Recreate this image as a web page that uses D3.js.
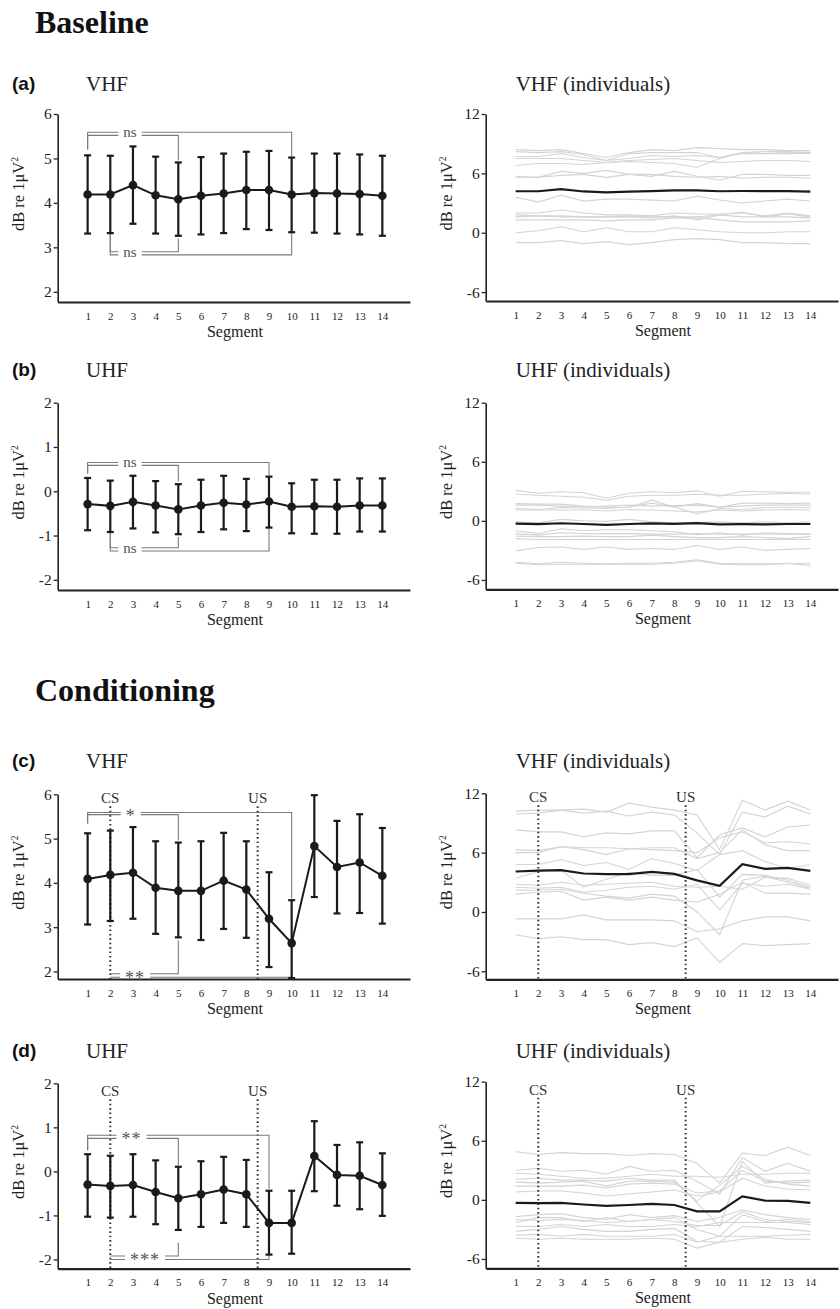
<!DOCTYPE html>
<html><head><meta charset="utf-8">
<script src="https://cdn.jsdelivr.net/npm/d3@7/dist/d3.min.js"></script>
<style>
body{margin:0;background:#fff}
text{font-family:"Liberation Serif","Times New Roman",serif;fill:#222}
</style>
</head><body>
<svg id="chart" width="840" height="1309"></svg>
<script>
// ---------------- DATA ----------------
const segments = d3.range(1, 15);
const segmentLabels = segments.map(String);
const vhfTicks = [2, 3, 4, 5, 6];
const uhfTicks = [-2, -1, 0, 1, 2];
const indivTicks = [-6, 0, 6, 12];

// (a) Baseline VHF: mean and error-bar limits
const vhfBaseMean  = [4.19,4.19,4.40,4.17,4.08,4.16,4.21,4.29,4.29,4.19,4.22,4.21,4.20,4.16];
const vhfBaseUpper = [5.07,5.06,5.27,5.04,4.91,5.03,5.11,5.15,5.17,5.02,5.11,5.11,5.09,5.06];
const vhfBaseLower = [3.31,3.32,3.53,3.31,3.26,3.29,3.32,3.41,3.39,3.34,3.33,3.31,3.29,3.26];
// (b) Baseline UHF
const uhfBaseMean  = [-0.29,-0.33,-0.24,-0.32,-0.41,-0.32,-0.26,-0.30,-0.23,-0.35,-0.34,-0.35,-0.32,-0.32];
const uhfBaseUpper = [0.30,0.24,0.35,0.23,0.16,0.26,0.35,0.28,0.33,0.18,0.26,0.26,0.29,0.29];
const uhfBaseLower = [-0.88,-0.92,-0.84,-0.93,-0.97,-0.92,-0.86,-0.90,-0.82,-0.95,-0.96,-0.96,-0.91,-0.91];
// (c) Conditioning VHF
const vhfCondMean  = [4.09,4.18,4.23,3.89,3.82,3.82,4.05,3.85,3.19,2.64,4.83,4.36,4.46,4.16];
const vhfCondUpper = [5.12,5.18,5.26,4.94,4.91,4.94,5.13,4.94,4.24,3.61,5.98,5.40,5.55,5.24];
const vhfCondLower = [3.06,3.14,3.19,2.85,2.77,2.71,2.96,2.76,2.10,1.85,3.68,3.31,3.32,3.08];
// (d) Conditioning UHF
const uhfCondMean  = [-0.30,-0.33,-0.31,-0.47,-0.61,-0.52,-0.41,-0.52,-1.17,-1.17,0.35,-0.08,-0.10,-0.31];
const uhfCondUpper = [0.39,0.355,0.39,0.25,0.105,0.23,0.33,0.26,-0.44,-0.44,1.14,0.60,0.66,0.41];
const uhfCondLower = [-1.03,-1.05,-1.03,-1.20,-1.33,-1.26,-1.17,-1.26,-1.89,-1.87,-0.45,-0.78,-0.86,-1.01];

// individual animals
const vhfBaseIndividuals = [
 [8.4,8.3,8.4,8.0,7.6,8.1,8.4,8.3,8.6,8.5,8.4,8.4,8.3,8.3],
 [8.2,8.1,8.2,7.9,7.3,8.0,8.1,8.1,8.1,7.6,8.1,8.2,8.2,8.1],
 [7.7,7.7,8.0,7.6,7.3,7.5,7.8,7.7,7.8,7.6,8.0,8.0,8.1,8.0],
 [7.5,7.5,7.5,7.3,7.1,7.3,7.4,7.5,7.3,7.1,7.2,7.3,7.3,7.2],
 [6.8,7.0,7.0,6.9,7.1,7.2,7.1,7.0,6.6,7.5,8.1,8.0,8.0,8.1],
 [5.7,5.6,6.2,6.0,6.3,5.9,5.7,6.2,5.7,5.3,5.9,5.9,5.8,5.8],
 [5.6,5.6,5.8,5.9,5.6,5.9,5.9,5.7,5.6,5.7,5.5,5.6,5.6,5.5],
 [3.6,3.1,3.8,3.2,3.4,3.4,3.3,3.2,3.7,3.3,3.0,3.2,3.4,3.2],
 [2.0,2.0,2.3,2.0,1.8,1.8,1.7,2.0,1.9,1.9,2.0,1.7,2.0,1.7],
 [1.8,1.7,1.7,1.6,1.6,1.7,1.6,1.6,1.6,1.8,1.6,1.6,1.9,1.6],
 [1.6,1.7,1.6,1.6,1.6,1.6,1.5,1.7,1.3,1.8,2.1,1.6,1.6,1.5],
 [1.3,1.3,1.3,1.3,1.2,1.3,1.3,1.5,1.5,1.3,1.1,1.1,1.1,1.2],
 [0.0,0.2,0.6,0.1,0.5,0.1,0.1,0.5,0.3,0.1,0.0,0.0,0.1,0.1],
 [-1.0,-1.0,-0.8,-1.1,-0.9,-1.2,-1.0,-0.7,-0.6,-0.7,-1.0,-1.0,-1.1,-1.1]
];
const uhfBaseIndividuals = [
 [3.1,2.8,2.95,2.85,2.3,2.8,2.95,2.85,3.05,2.5,3.0,2.95,2.9,2.9],
 [2.7,2.6,2.5,2.4,2.1,2.5,2.6,2.6,2.7,2.6,2.6,2.7,2.8,2.7],
 [1.75,1.7,1.7,1.5,1.4,1.35,2.1,1.4,1.75,1.4,1.8,1.8,1.75,1.8],
 [1.6,1.6,1.5,1.4,1.5,1.6,1.5,1.55,1.6,1.4,1.5,1.6,1.6,1.6],
 [1.25,1.15,1.35,1.3,1.25,1.4,1.8,1.4,0.7,1.25,1.15,1.35,1.35,1.35],
 [1.1,1.1,1.1,1.1,1.0,1.15,1.1,1.0,0.9,1.1,1.0,1.1,1.15,1.1],
 [-0.1,-0.2,0.15,0.0,-0.05,0.15,-0.1,-0.2,-0.15,-0.1,-0.2,-0.1,-0.2,-0.1],
 [-1.0,-1.3,-0.8,-1.0,-0.9,-0.9,-1.0,-1.1,-1.4,-1.2,-1.45,-1.2,-1.3,-1.35],
 [-1.3,-1.45,-1.2,-1.3,-1.3,-1.3,-1.35,-1.35,-1.3,-1.35,-1.35,-1.35,-1.35,-1.35],
 [-1.55,-1.6,-1.6,-1.55,-1.6,-1.6,-1.45,-1.6,-1.7,-1.7,-1.6,-1.7,-1.8,-1.6],
 [-1.8,-1.9,-1.9,-1.9,-1.9,-1.9,-1.9,-1.9,-1.9,-1.9,-1.9,-1.9,-1.9,-1.9],
 [-3.05,-2.7,-2.65,-2.9,-2.65,-2.9,-2.8,-2.9,-2.5,-2.9,-2.65,-3.0,-2.9,-2.8],
 [-4.2,-4.35,-4.2,-4.3,-4.35,-4.3,-4.3,-4.2,-3.95,-4.3,-4.35,-4.35,-4.35,-4.3],
 [-4.3,-4.45,-4.4,-4.4,-4.4,-4.4,-4.4,-4.3,-4.05,-4.4,-4.45,-4.45,-4.3,-4.55]
];
const vhfCondIndividuals = [
 [10.2,10.3,10.3,10.4,10.1,11.0,10.6,10.3,9.8,6.3,11.3,10.3,11.2,10.3],
 [9.9,10.0,10.3,10.0,10.2,9.7,10.1,9.8,8.0,5.8,10.1,9.6,10.7,9.9],
 [8.3,8.1,8.1,7.6,8.0,7.9,8.2,8.2,5.5,7.8,8.5,7.6,8.6,8.8],
 [6.3,6.2,6.6,6.3,5.8,6.4,6.5,6.5,5.4,6.0,8.3,6.8,6.2,6.2],
 [6.0,6.0,6.6,6.5,6.5,6.4,6.3,6.2,6.0,7.5,8.1,7.0,7.1,6.9],
 [4.8,4.8,5.3,4.7,5.0,4.3,5.4,4.9,4.2,5.8,6.2,5.1,4.4,4.8],
 [3.4,4.1,4.2,2.5,3.3,4.0,3.7,3.7,4.3,1.5,3.8,3.7,3.2,2.5],
 [2.8,2.7,3.0,2.7,2.8,2.9,3.0,2.6,2.5,2.6,2.3,3.5,3.4,2.7],
 [2.5,2.4,2.5,2.0,2.2,2.5,2.6,2.3,2.8,0.2,2.9,2.6,2.8,2.3],
 [2.2,2.2,2.3,1.9,1.6,1.4,1.8,1.6,0.0,-2.3,3.2,3.6,3.0,2.4],
 [1.8,2.0,2.1,1.2,1.5,1.2,1.5,1.2,1.0,1.8,3.0,1.9,1.9,1.8],
 [-0.7,-0.7,-0.7,-0.3,-0.8,-0.8,-0.8,-0.9,-2.0,-1.7,-0.9,-0.5,-0.5,-0.9],
 [-2.3,-2.7,-2.5,-2.8,-2.8,-3.3,-3.1,-3.5,-2.6,-5.1,-3.2,-3.4,-3.3,-3.2]
];
const uhfCondIndividuals = [
 [4.9,4.6,4.8,4.7,4.7,4.5,4.7,4.6,3.7,1.7,4.75,4.5,5.35,4.5],
 [3.0,3.2,2.9,3.0,2.6,3.4,2.9,3.0,1.9,0.6,4.3,2.9,3.7,2.9],
 [2.7,2.6,2.4,2.2,2.2,2.4,2.6,2.4,2.4,2.3,2.6,2.6,2.7,2.7],
 [1.8,1.7,1.8,1.9,1.4,1.9,1.9,1.8,-0.1,1.5,3.4,2.1,1.6,1.4],
 [1.4,1.4,1.4,1.5,1.2,1.6,1.7,1.6,0.7,0.9,3.0,1.9,1.7,1.8],
 [0.8,0.9,0.9,0.7,0.4,0.6,0.8,1.0,0.4,0.8,2.2,1.4,1.1,1.0],
 [2.1,2.2,2.0,2.0,1.9,2.2,2.0,2.0,-0.3,-2.7,3.9,1.7,1.9,2.0],
 [-1.7,-1.5,-1.4,-1.8,-2.0,-1.5,-1.8,-1.6,-2.2,-1.8,-1.0,-1.5,-1.8,-2.0],
 [-2.0,-2.1,-2.0,-2.1,-2.3,-2.2,-2.0,-2.2,-2.6,-2.6,-1.2,-2.0,-2.2,-2.3],
 [-2.3,-1.8,-1.8,-2.2,-1.8,-2.2,-2.0,-1.8,-3.0,-3.7,-1.5,-2.2,-2.0,-2.2],
 [-2.7,-2.7,-2.5,-2.7,-2.5,-2.7,-2.7,-2.5,-2.7,-2.3,-2.3,-2.3,-2.3,-2.5],
 [-3.2,-3.0,-2.7,-3.0,-3.2,-3.2,-3.0,-2.9,-4.2,-4.3,-2.7,-2.8,-3.0,-3.2],
 [-3.6,-3.5,-3.7,-3.5,-3.7,-3.7,-3.7,-3.5,-4.3,-3.7,-3.7,-3.7,-3.6,-3.5],
 [-3.9,-4.0,-3.9,-4.0,-4.0,-4.0,-3.9,-4.0,-4.9,-4.3,-4.0,-3.8,-4.0,-4.0]
];

// significance brackets (segment from/to, bracket level and end levels in dB)
const vhfBaseBrackets = [
 {from:1,to:10,level:5.59,fromEnd:5.20,toEnd:5.04},
 {from:1,to:5,level:5.52,fromEnd:5.20,toEnd:4.96},
 {from:2,to:5,level:2.90,fromEnd:3.32,toEnd:3.20},
 {from:2,to:10,level:2.83,fromEnd:3.32,toEnd:3.33}];
const vhfBaseSig = [{seg:2.87,val:5.555,text:"ns"},{seg:2.87,val:2.865,text:"ns"}];
const uhfBaseBrackets = [
 {from:1,to:9,level:0.65,fromEnd:0.40,toEnd:0.36},
 {from:1,to:5,level:0.585,fromEnd:0.40,toEnd:0.22},
 {from:2,to:5,level:-1.275,fromEnd:-0.92,toEnd:-1.035},
 {from:2,to:9,level:-1.35,fromEnd:-0.92,toEnd:-0.84}];
const uhfBaseSig = [{seg:2.87,val:0.6175,text:"ns"},{seg:2.87,val:-1.3125,text:"ns"}];
const vhfCondBrackets = [
 {from:1,to:10,level:5.59,fromEnd:5.34,toEnd:3.65},
 {from:1,to:5,level:5.54,fromEnd:5.34,toEnd:4.96},
 {from:2,to:5,level:1.95,fromEnd:null,toEnd:2.70},
 {from:2,to:10,level:1.87,fromEnd:null,toEnd:2.64}];
const vhfCondSig = [{seg:2.9,val:5.565,text:"*"},{seg:3.09,val:1.91,text:"**"}];
const uhfCondBrackets = [
 {from:1,to:9,level:0.82,fromEnd:0.48,toEnd:-0.39},
 {from:1,to:5,level:0.75,fromEnd:0.48,toEnd:0.14},
 {from:2,to:5,level:-1.92,fromEnd:null,toEnd:-1.62},
 {from:2,to:9,level:-2.0,fromEnd:null,toEnd:-1.89}];
const uhfCondSig = [{seg:2.94,val:0.785,text:"**"},{seg:3.53,val:-1.96,text:"***"}];

const stimulusMarkers = [{seg:2,label:"CS"},{seg:8.5,label:"US"}];

// ---------------- LAYOUT ----------------
const panels = [
 {letter:"(a)", title:"VHF", titleY:91, mean:vhfBaseMean, upper:vhfBaseUpper, lower:vhfBaseLower,
  indiv:vhfBaseIndividuals, ticks:vhfTicks, lTop:114, lAxis:302, lDom:[1.77,6],
  rTop:114, rAxis:301, rDom:[-6.9,12], brackets:vhfBaseBrackets, sig:vhfBaseSig, markers:null},
 {letter:"(b)", title:"UHF", titleY:377, mean:uhfBaseMean, upper:uhfBaseUpper, lower:uhfBaseLower,
  indiv:uhfBaseIndividuals, ticks:uhfTicks, lTop:402.7, lAxis:590, lDom:[-2.23,2],
  rTop:402.7, rAxis:589.3, rDom:[-6.95,12], brackets:uhfBaseBrackets, sig:uhfBaseSig, markers:null},
 {letter:"(c)", title:"VHF", titleY:768, mean:vhfCondMean, upper:vhfCondUpper, lower:vhfCondLower,
  indiv:vhfCondIndividuals, ticks:vhfTicks, lTop:794.3, lAxis:979, lDom:[1.83,6],
  rTop:793.3, rAxis:979.3, rDom:[-6.81,12], brackets:vhfCondBrackets, sig:vhfCondSig, markers:stimulusMarkers, mk:9},
 {letter:"(d)", title:"UHF", titleY:1058, mean:uhfCondMean, upper:uhfCondUpper, lower:uhfCondLower,
  indiv:uhfCondIndividuals, ticks:uhfTicks, lTop:1083.3, lAxis:1268.7, lDom:[-2.21,2],
  rTop:1081.7, rAxis:1268.3, rDom:[-6.95,12], brackets:uhfCondBrackets, sig:uhfCondSig, markers:stimulusMarkers, mk:13}
];

const svg = d3.select("#chart");
const SERIF = '"Liberation Serif","Times New Roman",serif';

svg.append("text").attr("x",35).attr("y",33).style("font-size","32px").style("font-weight","bold").style("fill","#111").text("Baseline");
svg.append("text").attr("x",35).attr("y",701).style("font-size","32px").style("font-weight","bold").style("fill","#111").text("Conditioning");

function xScale(offset){
  return d3.scaleLinear().domain([-0.32,15.22]).range([57.7+offset,410+offset]);
}

function yLabel(g, x, cy){
  const t = g.append("text").attr("transform",`translate(${x},${cy}) rotate(-90)`)
    .attr("text-anchor","middle").attr("dy","0.35em").style("font-size","16.5px");
  t.append("tspan").text("dB re 1\u03BCV");
  t.append("tspan").attr("dy",-6).style("font-size","9.5px").text("2");
}

function drawAxes(g, x, y, ticks, top, axisY, offset){
  const xa = g.append("g").attr("transform",`translate(0,${axisY})`)
    .call(d3.axisBottom(x).tickValues(segments).tickFormat((d,i)=>segmentLabels[i]).tickSize(0).tickPadding(10));
  xa.attr("font-family",SERIF);
  xa.select(".domain").attr("stroke","#222").attr("stroke-width",2.2);
  xa.selectAll("text").style("font-family",SERIF).style("font-size","11px").style("fill","#222");
  const ya = g.append("g").attr("transform",`translate(${57.7+offset},0)`)
    .call(d3.axisLeft(y).tickValues(ticks).tickFormat(d=>String(d)).tickSize(4).tickSizeOuter(0).tickPadding(2));
  ya.attr("font-family",SERIF);
  ya.select(".domain").attr("stroke","#222").attr("stroke-width",1.6);
  ya.selectAll(".tick line").attr("stroke","#222").attr("stroke-width",1.3);
  ya.selectAll("text").style("font-family",SERIF).style("font-size","15.5px").style("fill","#222");
  g.append("text").attr("x",(x(1)+x(14))/2).attr("y",axisY+35).attr("text-anchor","middle")
    .style("font-size","16px").text("Segment");
  yLabel(g, 18.5+offset, (top+axisY)/2 - 14);
}

function drawMarkers(g, x, y, p, top, axisY){
  if(!p.markers) return;
  p.markers.forEach(m=>{
    g.append("line").attr("x1",x(m.seg)).attr("x2",x(m.seg))
      .attr("y1",top+p.mk+3).attr("y2",axisY)
      .attr("stroke","#333").attr("stroke-width",2).attr("stroke-dasharray","1.6,2.8");
    g.append("text").attr("x",x(m.seg)).attr("y",top+p.mk).attr("text-anchor","middle")
      .style("font-size","15px").style("fill","#333").text(m.label);
  });
}

panels.forEach(p=>{
  // titles
  svg.append("text").attr("x",12).attr("y",p.titleY-1)
    .style("font-family",'"Liberation Sans",Arial,sans-serif').style("font-weight","bold")
    .style("font-size","19px").style("fill","#111").text(p.letter);
  svg.append("text").attr("x",86).attr("y",p.titleY).style("font-size","21px").text(p.title);
  svg.append("text").attr("x",515.7).attr("y",p.titleY).style("font-size","21px").text(p.title+" (individuals)");

  // ---------- left: mean ± error ----------
  const gL = svg.append("g");
  const xL = xScale(0);
  const yL = d3.scaleLinear().domain(p.lDom).range([p.lAxis,p.lTop]);

  drawMarkers(gL, xL, yL, p, p.lTop, p.lAxis);

  // brackets
  const bg = gL.append("g");
  p.brackets.forEach(b=>{
    const path = d3.path();
    if(b.fromEnd!==null){ path.moveTo(xL(b.from), yL(b.fromEnd)); path.lineTo(xL(b.from), yL(b.level)); }
    else path.moveTo(xL(b.from), yL(b.level));
    path.lineTo(xL(b.to), yL(b.level));
    path.lineTo(xL(b.to), yL(b.toEnd));
    bg.append("path").attr("d",path.toString()).attr("fill","none").attr("stroke","#7a7a7a").attr("stroke-width",1.1);
  });
  p.sig.forEach(s=>{
    const isStar = s.text.indexOf("*")>=0;
    const cx = xL(s.seg), cy = yL(s.val);
    const t = bg.append("text").attr("x",cx).attr("text-anchor","middle")
      .attr("y", isStar ? cy+8.5 : cy+3.5)
      .style("font-size", isStar ? "18px":"15px").style("fill","#555")
      .style("letter-spacing", isStar ? "1px":"0px").text(s.text);
    const w = t.node().getComputedTextLength();
    bg.insert("rect", function(){return t.node();})
      .attr("x",cx-w/2-5).attr("y",cy-6).attr("width",w+10).attr("height",12).attr("fill","#fff");
  });

  // error bars
  const eb = gL.append("g").attr("stroke","#1a1a1a").attr("stroke-width",2.2);
  segments.forEach((s,i)=>{
    eb.append("line").attr("x1",xL(s)).attr("x2",xL(s)).attr("y1",yL(p.upper[i])).attr("y2",yL(p.lower[i]));
    eb.append("line").attr("x1",xL(s)-3.5).attr("x2",xL(s)+3.5).attr("y1",yL(p.upper[i])).attr("y2",yL(p.upper[i]));
    eb.append("line").attr("x1",xL(s)-3.5).attr("x2",xL(s)+3.5).attr("y1",yL(p.lower[i])).attr("y2",yL(p.lower[i]));
  });
  gL.append("path").datum(p.mean).attr("fill","none").attr("stroke","#1a1a1a").attr("stroke-width",2)
    .attr("d", d3.line().x((d,i)=>xL(segments[i])).y(d=>yL(d)));
  gL.selectAll("circle.m").data(p.mean).join("circle").attr("class","m")
    .attr("cx",(d,i)=>xL(segments[i])).attr("cy",d=>yL(d)).attr("r",4.3).attr("fill","#1a1a1a");

  drawAxes(gL, xL, yL, p.ticks, p.lTop, p.lAxis, 0);

  // ---------- right: individuals ----------
  const gR = svg.append("g");
  const xR = xScale(428);
  const yR = d3.scaleLinear().domain(p.rDom).range([p.rAxis,p.rTop]);
  const line = d3.line().x((d,i)=>xR(segments[i])).y(d=>yR(d));
  gR.selectAll("path.ind").data(p.indiv).join("path").attr("class","ind")
    .attr("fill","none").attr("stroke","#d4d4d4").attr("stroke-width",1.1).attr("d",line);
  gR.append("path").datum(p.mean).attr("fill","none").attr("stroke","#1a1a1a").attr("stroke-width",2.2).attr("d",line);
  drawMarkers(gR, xR, yR, p, p.rTop, p.rAxis);
  drawAxes(gR, xR, yR, indivTicks, p.rTop, p.rAxis, 428);
});
</script>
</body></html>
